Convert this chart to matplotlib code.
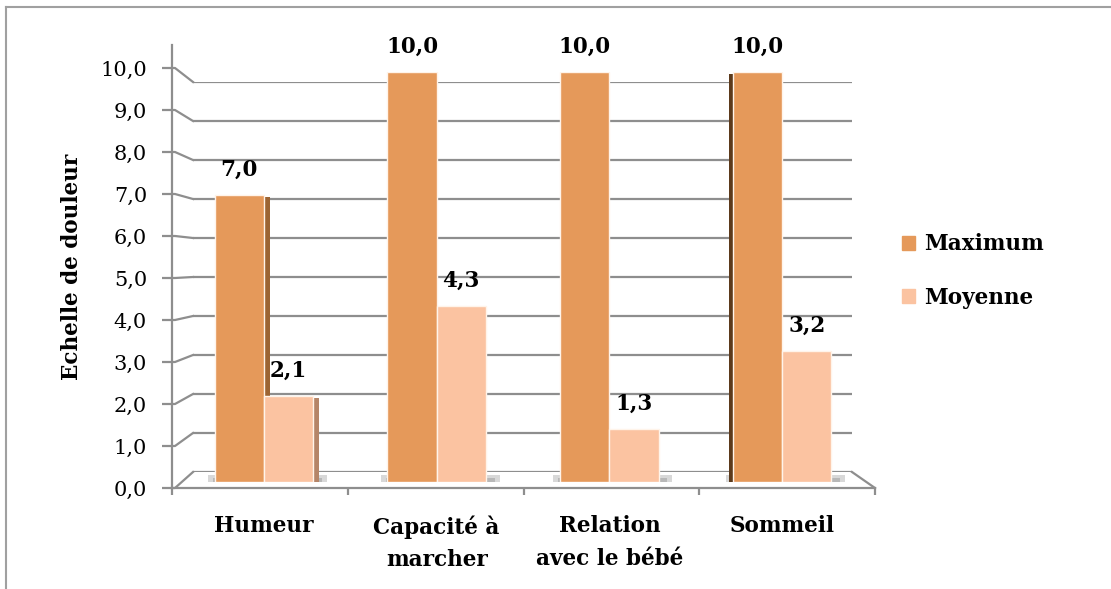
import matplotlib
matplotlib.use("Agg")
import matplotlib.pyplot as plt
from matplotlib.lines import Line2D
from matplotlib.patches import Patch
import numpy as np

categories = ["Humeur", "Capacité à\nmarcher", "Relation\navec le bébé", "Sommeil"]
maximum = [7.0, 10.0, 10.0, 10.0]
moyenne = [2.1, 4.3, 1.3, 3.2]
yticks = [0, 1, 2, 3, 4, 5, 6, 7, 8, 9, 10]
ytick_labels = ["0,0", "1,0", "2,0", "3,0", "4,0", "5,0", "6,0", "7,0", "8,0", "9,0", "10,0"]
series_names = ["Maximum", "Moyenne"]

W, H = 1111, 589
C_MAX = "#E5995A"
C_MOY = "#FBC3A1"
C_MAX_SIDE = "#9C6433"
C_MOY_SIDE = "#B58568"
C_SOM_SIDE = "#5C3A1C"
GRID = "#8e8e8e"
FONT = "DejaVu Serif"

plt.rcParams["font.family"] = FONT

fig = plt.figure(figsize=(W / 100, H / 100), dpi=100)


def rect(x0, y0, x1, y1):
    return [x0 / W, 1 - y1 / H, (x1 - x0) / W, (y1 - y0) / H]


# back wall gridlines
ax_back = fig.add_axes(rect(193, 82, 852, 472))
ax_back.set_ylim(0, 10)
ax_back.set_xlim(0, 1)
ax_back.set_yticks(yticks)
ax_back.set_yticklabels([])
ax_back.set_xticks([])
ax_back.tick_params(length=0)
ax_back.grid(axis="y", color=GRID, lw=1.6)
for s in ax_back.spines.values():
    s.set_visible(False)
ax_back.patch.set_alpha(0)

# front axes (axis lines, tick labels)
front_top = 10 + (488 - 45 - 420) / 42.0
ax_front = fig.add_axes(rect(172, 45, 875, 488))
ax_front.set_ylim(0, front_top)
ax_front.set_xlim(0, 4)
ax_front.set_yticks(yticks)
ax_front.set_yticklabels(ytick_labels, fontsize=15)
ax_front.set_xticks([0, 1, 2, 3, 4])
ax_front.set_xticklabels([])
ax_front.tick_params(axis="y", direction="out", length=7, width=1.6, color=GRID, pad=11)
ax_front.tick_params(axis="x", direction="out", length=5, width=1.6, color=GRID)
for k in ["top", "right"]:
    ax_front.spines[k].set_visible(False)
for k in ["left", "bottom"]:
    ax_front.spines[k].set_color(GRID)
    ax_front.spines[k].set_linewidth(1.6)
ax_front.patch.set_alpha(0)

# connectors from front ticks to back wall
inv = fig.transFigure.inverted()
for v in yticks:
    p0 = inv.transform(ax_front.transData.transform((0, v)))
    p1 = inv.transform(ax_back.transData.transform((0, v)))
    fig.add_artist(Line2D([p0[0], p0[0] + 3 / W, p1[0]], [p0[1], p0[1], p1[1]],
                          transform=fig.transFigure, color=GRID, lw=1.6))
# floor right edge
p0 = inv.transform(ax_back.transData.transform((1, 0)))
p1 = inv.transform(ax_front.transData.transform((4, 0)))
fig.add_artist(Line2D([p0[0], p1[0]], [p0[1], p1[1]], transform=fig.transFigure, color=GRID, lw=1.6))

# bars
ax = fig.add_axes(rect(177.6, 72, 177.6 + 690.8, 482))
ax.set_xlim(-0.5, 3.5)
ax.set_ylim(0, 10)
ax.patch.set_alpha(0)
for s in ax.spines.values():
    s.set_visible(False)
x = np.arange(len(categories))
bw = 0.285
sw = 0.035

# floor shadows
for xi in x:
    ax.bar(xi + 0.02, 0.22, width=2 * bw + 0.12, bottom=-0.06, color="#b8b8b8", alpha=0.55, zorder=1)
    ax.bar(xi + 0.02, 0.14, width=2 * bw + 0.06, bottom=-0.04, color="#9a9a9a", alpha=0.5, zorder=1)

# side faces
ax.bar(x[0] + sw / 2, maximum[0] - 0.05, width=sw, color=C_MAX_SIDE, zorder=2)
ax.bar(x[0] + bw + sw / 2, moyenne[0] - 0.05, width=sw, color=C_MOY_SIDE, zorder=2)
ax.bar(x[3] - bw - sw / 2 + 0.01, maximum[3] - 0.05, width=sw, color=C_SOM_SIDE, zorder=2)

b1 = ax.bar(x - bw / 2, maximum, width=bw, color=C_MAX, edgecolor="#fff4ea", lw=1.0,
            label=series_names[0], zorder=3)
b2 = ax.bar(x + bw / 2, moyenne, width=bw, color=C_MOY, edgecolor="#fff4ea", lw=1.0,
            label=series_names[1], zorder=3)

for bars, vals in ((b1, maximum), (b2, moyenne)):
    for r, v in zip(bars, vals):
        ax.annotate(f"{v:.1f}".replace(".", ","), (r.get_x() + r.get_width() / 2, v),
                    xytext=(0, 10), textcoords="offset points", ha="center", va="bottom",
                    fontsize=15.5, fontweight="bold", annotation_clip=False)

ax.set_yticks([])
ax.set_xticks(x)
ax.set_xticklabels(categories, fontsize=15.5, fontweight="bold", linespacing=1.6)
ax.tick_params(axis="x", length=0, pad=24)

fig.text(72 / W, 1 - 267 / H, "Echelle de douleur", rotation=90, ha="center", va="center",
         fontsize=15.5, fontweight="bold")

leg = ax.legend(handles=[Patch(color=C_MAX), Patch(color=C_MOY)], labels=series_names,
                loc="center left", bbox_to_anchor=(883 / W, 1 - 271 / H),
                bbox_transform=fig.transFigure, frameon=False,
                prop={"family": FONT, "weight": "bold", "size": 15.5},
                handlelength=0.6, handleheight=0.6, handletextpad=0.4, labelspacing=1.45)

# outer border (top and left)
fig.add_artist(Line2D([6 / W, 1], [1 - 7 / H, 1 - 7 / H], transform=fig.transFigure, color="#a0a0a0", lw=1.5))
fig.add_artist(Line2D([6 / W, 6 / W], [0, 1 - 7 / H], transform=fig.transFigure, color="#a0a0a0", lw=1.5))

fig.savefig("out.png", dpi=100)
